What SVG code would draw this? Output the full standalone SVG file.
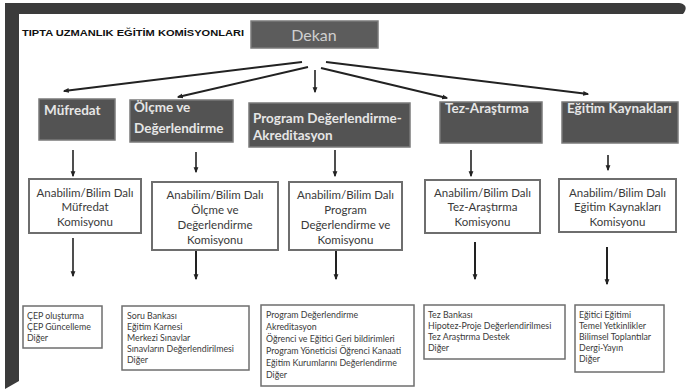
<svg xmlns="http://www.w3.org/2000/svg" width="688" height="391" viewBox="0 0 688 391">
<style>
.hdr rect{fill:#535353;stroke:#7a7a7a;stroke-width:1.5}
.hdr text{font-family:Lato,"Liberation Sans",sans-serif;font-size:13.5px;font-weight:bold;fill:#e6e6e6}
.mid rect{fill:#fff;stroke:#6e6e6e;stroke-width:2}
.mid text{font-family:Lato,"Liberation Sans",sans-serif;font-size:11.5px;fill:#3a3a3a;text-anchor:middle}
.bot rect{fill:#fff;stroke:#6e6e6e;stroke-width:1.5}
.bot text{font-family:Lato,"Liberation Sans",sans-serif;font-size:8.8px;fill:#3a3a3a}
.con line{stroke:#222;stroke-width:2;marker-end:url(#ah)}
.con line.v{stroke-width:1.6}
</style>
<defs>
<marker id="ah" viewBox="0 0 10 10" refX="8" refY="5" markerWidth="6" markerHeight="6" markerUnits="userSpaceOnUse" orient="auto"><path d="M0,1 L10,5 L0,9 z" fill="#222"/></marker>
</defs>
<rect width="688" height="391" fill="#fff"/>
<path d="M5,3 H677 C686,3 688,8 683,14 H19 V381 L5,389 Z" fill="#3b3b3b"/>
<text x="22" y="36" font-family="'Liberation Sans',Arial,sans-serif" font-size="8.5" font-weight="bold" fill="#111" textLength="222" lengthAdjust="spacingAndGlyphs">TIPTA UZMANLIK EĞİTİM KOMİSYONLARI</text>
<g id="dekan">
<rect x="251" y="21" width="127" height="27" fill="#5c5c5c" stroke="#7a7a7a" stroke-width="1.5"/>
<text x="314" y="40.5" font-family="Lato,'Liberation Sans',sans-serif" font-size="16" fill="#cfcfcf" text-anchor="middle">Dekan</text>
</g>
<g class="con" id="connectors">
<line x1="302" y1="62" x2="64" y2="91"/>
<line x1="308" y1="67" x2="178" y2="97"/>
<line class="v" x1="315" y1="70" x2="315" y2="92"/>
<line x1="321" y1="68" x2="447" y2="98"/>
<line x1="326" y1="62" x2="588" y2="94"/>
<line class="v" x1="73" y1="150" x2="73" y2="176"/>
<line class="v" x1="196" y1="152" x2="196" y2="172"/>
<line class="v" x1="335" y1="150" x2="335" y2="176"/>
<line class="v" x1="471" y1="150" x2="471" y2="176"/>
<line class="v" x1="608" y1="155" x2="608" y2="170"/>
<line class="v" x1="73" y1="238" x2="73" y2="276"/>
<line x1="196" y1="250" x2="196" y2="279"/>
<line x1="336" y1="250" x2="336" y2="279"/>
<line x1="475" y1="242" x2="475" y2="279"/>
<line x1="607" y1="247" x2="607" y2="284"/>
</g>
<g class="hdr">
<g id="h-mufredat"><rect x="39" y="99" width="76" height="41"/><text x="44" y="115">Müfredat</text></g>
<g id="h-olcme"><rect x="130" y="100" width="103" height="42"/><text x="134" y="112">Ölçme ve</text><text x="134" y="133">Değerlendirme</text></g>
<g id="h-program"><rect x="249" y="103" width="161" height="44"/><text x="253" y="123">Program Değerlendirme-</text><text x="253" y="140">Akreditasyon</text></g>
<g id="h-tez"><rect x="440" y="102" width="102" height="41"/><text x="445" y="113">Tez-Araştırma</text></g>
<g id="h-egitim"><rect x="562" y="102" width="116" height="41"/><text x="567" y="113">Eğitim Kaynakları</text></g>
</g>
<g class="mid">
<g id="m-mufredat"><rect x="29" y="179" width="112" height="54"/><text x="85" y="197">Anabilim/Bilim Dalı</text><text x="85" y="211">Müfredat</text><text x="85" y="226">Komisyonu</text></g>
<g id="m-olcme"><rect x="152" y="182" width="126" height="68"/><text x="215" y="199">Anabilim/Bilim Dalı</text><text x="215" y="214">Ölçme ve</text><text x="215" y="229">Değerlendirme</text><text x="215" y="244">Komisyonu</text></g>
<g id="m-program"><rect x="289" y="182" width="113" height="68"/><text x="345.5" y="199">Anabilim/Bilim Dalı</text><text x="345.5" y="214">Program</text><text x="345.5" y="229">Değerlendirme ve</text><text x="345.5" y="244">Komisyonu</text></g>
<g id="m-tez"><rect x="425" y="180" width="115" height="53"/><text x="482.5" y="197">Anabilim/Bilim Dalı</text><text x="482.5" y="211">Tez-Araştırma</text><text x="482.5" y="226">Komisyonu</text></g>
<g id="m-egitim"><rect x="559" y="179" width="117" height="53"/><text x="617.5" y="197">Anabilim/Bilim Dalı</text><text x="617.5" y="211">Eğitim Kaynakları</text><text x="617.5" y="226">Komisyonu</text></g>
</g>
<g class="bot">
<g id="b-mufredat"><rect x="23" y="306" width="79" height="42"/><text x="27" y="318.5">ÇEP oluşturma</text><text x="27" y="329.5">ÇEP Güncelleme</text><text x="27" y="340.5">Diğer</text></g>
<g id="b-olcme"><rect x="122" y="306" width="127" height="64"/><text x="127" y="318.5">Soru Bankası</text><text x="127" y="329.5">Eğitim Karnesi</text><text x="127" y="340.5">Merkezi Sınavlar</text><text x="127" y="351.5">Sınavların Değerlendirilmesi</text><text x="127" y="362.5">Diğer</text></g>
<g id="b-program"><rect x="261" y="305" width="153" height="81"/><text x="266" y="318">Program Değerlendirme</text><text x="266" y="330">Akreditasyon</text><text x="266" y="342">Öğrenci ve Eğitici Geri bildirimleri</text><text x="266" y="354">Program Yöneticisi Öğrenci Kanaati</text><text x="266" y="366">Eğitim Kurumlarını Değerlendirme</text><text x="266" y="378">Diğer</text></g>
<g id="b-tez"><rect x="424" y="305" width="141" height="54"/><text x="428" y="317.5">Tez Bankası</text><text x="428" y="328.5">Hipotez-Proje Değerlendirilmesi</text><text x="428" y="339.5">Tez Araştırma Destek</text><text x="428" y="350.5">Diğer</text></g>
<g id="b-egitim"><rect x="575" y="305" width="89" height="67"/><text x="579" y="317.5">Eğitici Eğitimi</text><text x="579" y="328.5">Temel Yetkinlikler</text><text x="579" y="339.5">Bilimsel Toplantılar</text><text x="579" y="350.5">Dergi-Yayın</text><text x="579" y="361.5">Diğer</text></g>
</g>
</svg>
